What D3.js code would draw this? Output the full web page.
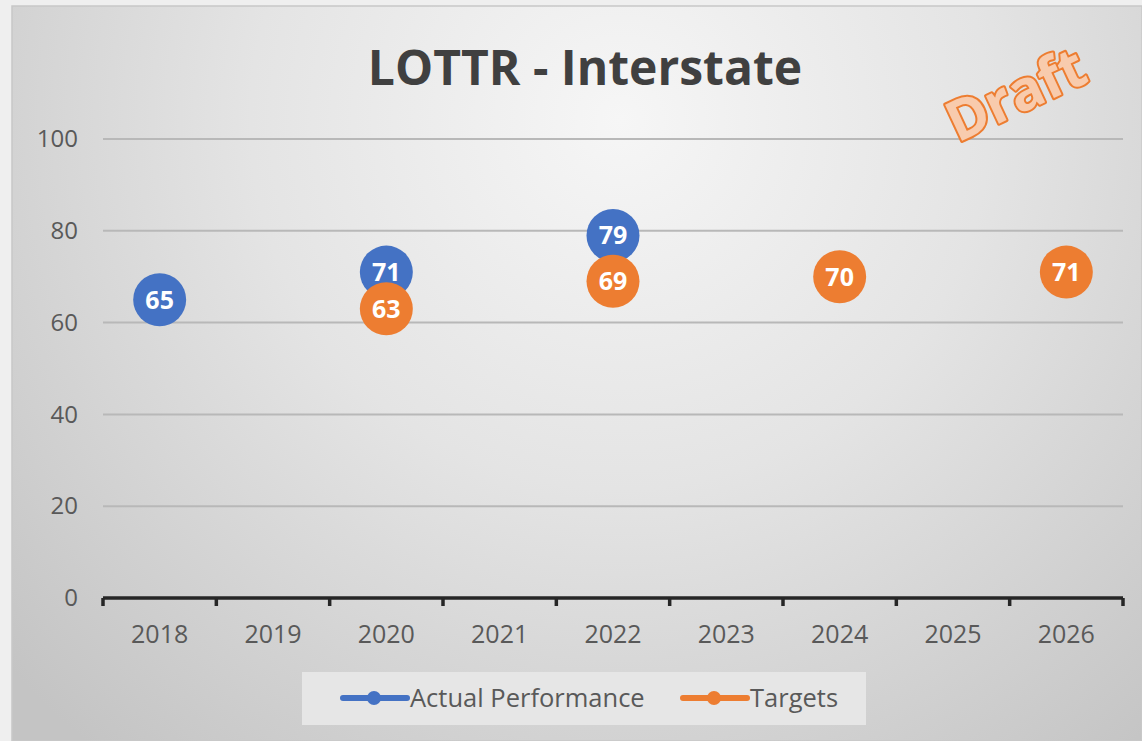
<!DOCTYPE html>
<html>
<head>
<meta charset="utf-8">
<script src="https://cdn.jsdelivr.net/npm/d3@7"></script>
<style>
  body { margin: 0; background: #efefef; }
  svg { display: block; }
  text { font-family: "Open Sans", "Noto Sans", sans-serif; }
</style>
</head>
<body>
<svg width="1142" height="741"></svg>
<script>
const years = ['2018', '2019', '2020', '2021', '2022', '2023', '2024', '2025', '2026'];
const actualYears = ['2018', '2020', '2022'];
const actualValues = [65, 71, 79];
const targetYears = ['2020', '2022', '2024', '2026'];
const targetValues = [63, 69, 70, 71];
const yTicks = [0, 20, 40, 60, 80, 100];

const blue = '#4472c4', orange = '#ed7d31';

var svg = d3.select('svg'),
    width = +svg.attr('width'),
    height = +svg.attr('height');

var defs = svg.append('defs');
var grad = defs.append('radialGradient')
  .attr('id', 'bg')
  .attr('gradientUnits', 'userSpaceOnUse')
  .attr('cx', 620).attr('cy', 120).attr('r', 820);
grad.append('stop').attr('offset', '0%').attr('stop-color', '#f6f6f6');
grad.append('stop').attr('offset', '45%').attr('stop-color', '#e4e4e4');
grad.append('stop').attr('offset', '100%').attr('stop-color', '#c4c4c4');

// chart panel
svg.append('rect')
  .attr('x', 12).attr('y', 6)
  .attr('width', width - 12).attr('height', height - 6)
  .attr('fill', 'url(#bg)')
  .attr('stroke', '#c8c8c8').attr('stroke-width', 1.5);

var margin = {left: 103, right: 19, top: 139, bottom: 143};

var x = d3.scaleBand()
  .domain(years)
  .range([margin.left, width - margin.right]);

var y = d3.scaleLinear()
  .domain([0, 100])
  .range([height - margin.bottom, margin.top]);

// gridlines
svg.append('g')
  .selectAll('line')
  .data(yTicks.filter(d => d > 0))
  .enter().append('line')
  .attr('x1', margin.left).attr('x2', width - margin.right)
  .attr('y1', d => y(d)).attr('y2', d => y(d))
  .attr('stroke', '#b8b8b8').attr('stroke-width', 2);

// y axis labels
svg.append('g')
  .attr('transform', 'translate(78,0)')
  .call(d3.axisLeft(y).tickValues(yTicks).tickSize(0).tickPadding(0))
  .call(g => g.select('.domain').remove())
  .call(g => g.selectAll('text')
    .attr('font-size', 24)
    .attr('fill', '#595959')
    .style('font-family', '"Open Sans", sans-serif'));

// x axis
var xAxis = svg.append('g')
  .attr('transform', 'translate(0,' + y(0) + ')');
xAxis.append('line')
  .attr('x1', margin.left).attr('x2', width - margin.right)
  .attr('stroke', '#262626').attr('stroke-width', 3.5);
xAxis.selectAll('.tk')
  .data(years.concat(['end']))
  .enter().append('line')
  .attr('class', 'tk')
  .attr('x1', (d, i) => i < years.length ? x(d) : x.range()[1])
  .attr('x2', (d, i) => i < years.length ? x(d) : x.range()[1])
  .attr('y1', 0).attr('y2', 8)
  .attr('stroke', '#262626').attr('stroke-width', 3.5);
xAxis.selectAll('.lbl')
  .data(years)
  .enter().append('text')
  .attr('class', 'lbl')
  .attr('x', d => x(d) + x.bandwidth() / 2)
  .attr('y', 45)
  .attr('text-anchor', 'middle')
  .attr('font-size', 25)
  .attr('fill', '#595959')
  .text(d => d);

// points
function drawSeries(cats, vals, color) {
  var data = cats.map((c, i) => ({year: c, value: vals[i]}));
  var g = svg.append('g');
  g.selectAll('circle')
    .data(data)
    .enter().append('circle')
    .attr('cx', d => x(d.year) + x.bandwidth() / 2)
    .attr('cy', d => y(d.value))
    .attr('r', 26.5)
    .attr('fill', color);
  g.selectAll('text')
    .data(data)
    .enter().append('text')
    .attr('x', d => x(d.year) + x.bandwidth() / 2)
    .attr('y', d => y(d.value) + 9)
    .attr('text-anchor', 'middle')
    .attr('font-size', 25)
    .attr('font-weight', 'bold')
    .attr('fill', '#fff')
    .text(d => d.value);
}
drawSeries(actualYears, actualValues, blue);
drawSeries(targetYears, targetValues, orange);

// title
svg.append('text')
  .attr('x', 585).attr('y', 85)
  .attr('text-anchor', 'middle')
  .attr('font-size', 48)
  .attr('font-weight', 'bold')
  .attr('fill', '#404040')
  .text('LOTTR - Interstate');

// draft stamp
svg.append('text')
  .attr('transform', 'translate(1024,112) rotate(-25)')
  .attr('text-anchor', 'middle')
  .attr('font-size', 56)
  .attr('font-weight', 'bold')
  .attr('fill', '#f8cbad')
  .attr('stroke', orange)
  .attr('stroke-width', 4)
  .attr('stroke-linejoin', 'round')
  .attr('paint-order', 'stroke')
  .text('Draft');

// legend
var legend = svg.append('g');
legend.append('rect')
  .attr('x', 302).attr('y', 672)
  .attr('width', 564).attr('height', 53)
  .attr('fill', '#e6e6e6');

var legendItems = [
  {name: 'Actual Performance', color: blue, x: 343},
  {name: 'Targets', color: orange, x: 683}
];
var li = legend.selectAll('.li')
  .data(legendItems)
  .enter().append('g')
  .attr('transform', d => 'translate(' + d.x + ',698)');
li.append('line')
  .attr('x1', 0).attr('x2', 64)
  .attr('stroke', d => d.color).attr('stroke-width', 6)
  .attr('stroke-linecap', 'round');
li.append('circle')
  .attr('cx', 31).attr('r', 7)
  .attr('fill', d => d.color);
li.append('text')
  .attr('x', 67).attr('y', 9)
  .attr('font-size', 25.5)
  .attr('fill', '#595959')
  .text(d => d.name);
</script>
</body>
</html>
